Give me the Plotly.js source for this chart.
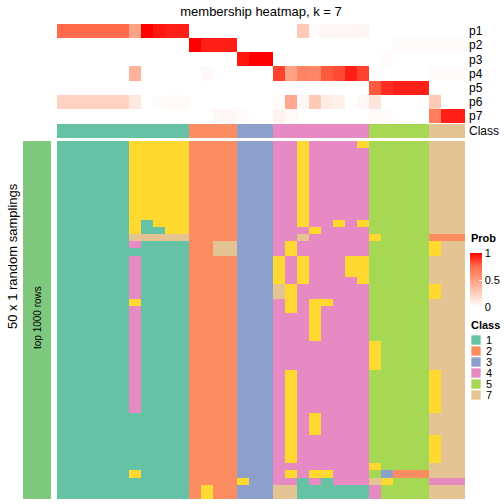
<!DOCTYPE html>
<html><head><meta charset="utf-8">
<script src="https://cdn.plot.ly/plotly-3.0.1.min.js"></script>
<style>html,body{margin:0;padding:0;background:#fff}#chart{width:504px;height:504px}</style>
</head><body><div id="chart"></div>
<script>
// ---------- data ----------
const chartTitle = 'membership heatmap, k = 7';
const classLevels = [1, 2, 3, 4, 5, 6, 7];
const classColors = ['#66C2A5', '#FC8D62', '#8DA0CB', '#E78AC3', '#A6D854', '#FFD92F', '#E5C494'];
const legendClasses = ['1', '2', '3', '4', '5', '7'];
const columnClass = [1,1,1,1,1,1,1,1,1,1,1, 2,2,2,2, 3,3,3, 4,4,4,4,4,4,4,4, 5,5,5,5,5, 7,7,7];
const probNames = ['p1', 'p2', 'p3', 'p4', 'p5', 'p6', 'p7'];
const p1 = [0.76,0.76,0.76,0.76,0.76,0.76,0.48,1.00,0.95,0.93,0.93, 0,0,0,0, 0,0,0, 0,0,0.28,0.02,0.04,0.04,0.04,0.05, 0,0,0,0,0, 0,0,0];
const p2 = [0,0,0,0,0,0,0,0,0,0,0, 1.00,0.93,0.93,0.93, 0,0,0, 0,0,0,0,0,0,0,0, 0,0,0.02,0.02,0.02, 0.02,0.02,0.02];
const p3 = [0,0,0,0,0,0,0,0,0,0,0, 0,0,0,0, 0.95,1.00,1.00, 0,0,0,0,0,0,0,0, 0,0.02,0,0,0, 0,0,0];
const p4 = [0,0,0,0,0,0,0.40,0,0,0,0, 0,0.03,0,0, 0,0,0, 0.85,0.48,0.65,0.63,0.80,0.83,0.93,0.85, 0,0,0,0,0, 0.02,0.02,0.02];
const p5 = [0,0,0,0,0,0,0,0,0,0,0, 0,0,0,0, 0,0,0, 0,0,0,0,0,0,0,0, 0.80,0.90,0.93,0.93,0.93, 0,0,0];
const p6 = [0.24,0.24,0.24,0.24,0.24,0.24,0.12,0,0.02,0.03,0.03, 0,0,0,0, 0,0,0, 0.02,0.45,0.04,0.28,0.10,0.08,0,0.04, 0.13,0,0,0,0, 0.27,0,0];
const p7 = [0,0,0,0,0,0,0,0,0,0,0, 0,0,0.04,0.04, 0.02,0,0, 0.06,0.03,0,0,0,0,0,0, 0.02,0.02,0,0,0, 0.67,0.93,0.93];
// 50 random samplings (rows) x 34 samples (columns): predicted class
const samplingRows = [
  '1111116666622223334464444655555777',
  '1111116666622223334464444455555777',
  '1111116666622223334464444455555777',
  '1111116666622223334464444455555777',
  '1111116666622223334464444455555777',
  '1111116666622223334464444455555777',
  '1111116666622223334464444455555777',
  '1111116666622223334464444455555777',
  '1111116666622223334464444455555777',
  '1111116666622223334464444455555777',
  '1111116666622223334464444455555777',
  '1111116166622223334464464655555777',
  '1111116116622223334446444455555777',
  '1111117777722223334474444465555222',
  '1111114111122773334644444455555677',
  '1111111111122773334644444455555677',
  '1111114111122223336464446655555777',
  '1111114111122223336464446655555777',
  '1111114111122223336464446655555777',
  '1111114111122223336464444655555777',
  '1111114111122223337644444455555677',
  '1111114111122223337644444455555677',
  '1111116111122223334646644455555777',
  '1111114111122223334646444455555777',
  '1111114111122223334446444455555777',
  '1111114111122223334446444455555777',
  '1111114111122223334446444455555777',
  '1111114111122223334446444455555777',
  '1111114111122223334444444465555777',
  '1111114111122223334444444465555777',
  '1111114111122223334444444465555777',
  '1111114111122223334444444465555777',
  '1111114111122223334644444455555677',
  '1111114111122223334644444455555677',
  '1111114111122223334644444455555677',
  '1111114111122223334644444455555677',
  '1111114111122223334644444455555677',
  '1111114111122223334644444455555677',
  '1111111111122223334646444455555777',
  '1111111111122223334646444455555777',
  '1111111111122223334646444455555777',
  '1111111111122223334644444455555677',
  '1111111111122223334644444455555677',
  '1111111111122223334644444455555677',
  '1111111111122223334644444455555677',
  '1111111111122223334444444465555777',
  '1111116111122223334646644453222777',
  '1111111111122226334414144476555444',
  '1111111111126223337711111145555777',
  '1111111111126223337711111145555777'
];
const probTicks = [0, 0.5, 1];
const rowTitle = '50 x 1 random samplings';
const leftAnnoText = 'top 1000 rows';

// ---------- build ----------
const W = 504, H = 504;
const fx = px => px / W;
const fy = py => 1 - py / H;
const nCol = columnClass.length;
const colIdx = columnClass.map((_, i) => i);
const rowIdx = samplingRows.map((_, i) => i);
const zMain = samplingRows.map(r => r.split('').map(Number));

const nCls = classLevels.length;
const classScale = [];
classColors.forEach((c, k) => { classScale.push([k / nCls, c]); classScale.push([(k + 1) / nCls, c]); });
const probScale = [[0, '#FFFFFF'], [0.25, 'rgb(255,207,190)'], [0.5, 'rgb(255,158,129)'], [0.75, 'rgb(255,111,77)'], [1, '#FF0000']];
const FONT = 'Liberation Sans, Arial, Helvetica, sans-serif';

const traces = [
  { type: 'heatmap', x: colIdx, y: rowIdx, z: zMain, xaxis: 'x', yaxis: 'y',
    colorscale: classScale, zmin: 0.5, zmax: 7.5, showscale: false, hoverinfo: 'skip' },
  { type: 'heatmap', x: colIdx, y: probNames.map((_, i) => i), z: [p1, p2, p3, p4, p5, p6, p7], xaxis: 'x', yaxis: 'y2',
    colorscale: probScale, zmin: 0, zmax: 1, hoverinfo: 'skip',
    colorbar: { x: fx(470), xanchor: 'left', xref: 'paper', y: fy(280), yanchor: 'middle', len: 54, lenmode: 'pixels',
      thickness: 12, xpad: 0, ypad: 0, outlinewidth: 0,
      tickvals: probTicks, ticktext: probTicks.map(String), ticks: 'inside', ticklen: 3, tickcolor: '#FFFFFF',
      tickfont: { size: 11, family: FONT, color: '#000' } } },
  { type: 'heatmap', x: colIdx, y: [0], z: [columnClass], xaxis: 'x', yaxis: 'y3',
    colorscale: classScale, zmin: 0.5, zmax: 7.5, showscale: false, hoverinfo: 'skip' },
  { type: 'heatmap', x: [0], y: rowIdx, z: rowIdx.map(() => [1]), xaxis: 'x2', yaxis: 'y',
    colorscale: [[0, '#7FC97F'], [1, '#7FC97F']], showscale: false, hoverinfo: 'skip' }
];

const hidden = { showgrid: false, zeroline: false, showticklabels: false, ticks: '', showline: false };
const shapes = [];
const annotations = [
  { text: rowTitle, xref: 'paper', yref: 'paper', x: fx(12), y: fy(256), textangle: -90, showarrow: false,
    xanchor: 'center', yanchor: 'middle', font: { size: 13, family: FONT, color: '#000' } },
  { text: leftAnnoText, xref: 'paper', yref: 'paper', x: fx(37), y: fy(318), textangle: -90, showarrow: false,
    xanchor: 'center', yanchor: 'middle', font: { size: 10, family: FONT, color: '#000' } },
  { text: '<b>Prob</b>', xref: 'paper', yref: 'paper', x: fx(469), y: fy(238), showarrow: false,
    xanchor: 'left', yanchor: 'middle', font: { size: 11, family: FONT, color: '#000' } },
  { text: '<b>Class</b>', xref: 'paper', yref: 'paper', x: fx(469), y: fy(325), showarrow: false,
    xanchor: 'left', yanchor: 'middle', font: { size: 11, family: FONT, color: '#000' } }
];
legendClasses.forEach((lab, i) => {
  const top = 335 + 11 * i;
  const col = classColors[classLevels.indexOf(Number(lab))];
  shapes.push({ type: 'rect', xref: 'paper', yref: 'paper', x0: fx(471), x1: fx(481), y0: fy(top + 10), y1: fy(top),
    fillcolor: col, line: { color: 'rgba(255,255,255,0.7)', width: 1 } });
  annotations.push({ text: lab, xref: 'paper', yref: 'paper', x: fx(484), y: fy(top + 5), showarrow: false,
    xanchor: 'left', yanchor: 'middle', font: { size: 11, family: FONT, color: '#000' } });
});

const layout = {
  width: W, height: H, margin: { l: 0, r: 0, t: 0, b: 0, autoexpand: false }, paper_bgcolor: '#fff', plot_bgcolor: '#fff',
  showlegend: false, font: { family: FONT, color: '#000' },
  title: { text: chartTitle, x: fx(261), xanchor: 'center', xref: 'paper', y: fy(11), yanchor: 'middle', yref: 'paper',
    font: { size: 13, family: FONT, color: '#000' } },
  xaxis: Object.assign({ domain: [fx(57), fx(465)], range: [-0.5, nCol - 0.5], anchor: 'y' }, hidden),
  xaxis2: Object.assign({ domain: [fx(23), fx(51)], range: [-0.5, 0.5], anchor: 'y' }, hidden),
  yaxis: Object.assign({ domain: [fy(499), fy(141)], range: [samplingRows.length - 0.5, -0.5], anchor: 'x' }, hidden),
  yaxis2: Object.assign({}, hidden, { domain: [fy(123), fy(24)], range: [probNames.length - 0.5, -0.5], anchor: 'x', side: 'right',
    showticklabels: true, tickvals: probNames.map((_, i) => i), ticktext: probNames, ticklabelstandoff: 3,
    tickfont: { size: 12, family: FONT, color: '#000' } }),
  yaxis3: Object.assign({}, hidden, { domain: [fy(138), fy(124)], range: [0.5, -0.5], anchor: 'x', side: 'right',
    showticklabels: true, tickvals: [0], ticktext: ['Class'], ticklabelstandoff: 3,
    tickfont: { size: 12, family: FONT, color: '#000' } }),
  shapes: shapes, annotations: annotations
};
Plotly.newPlot('chart', traces, layout, { staticPlot: true, displayModeBar: false });
</script></body></html>
